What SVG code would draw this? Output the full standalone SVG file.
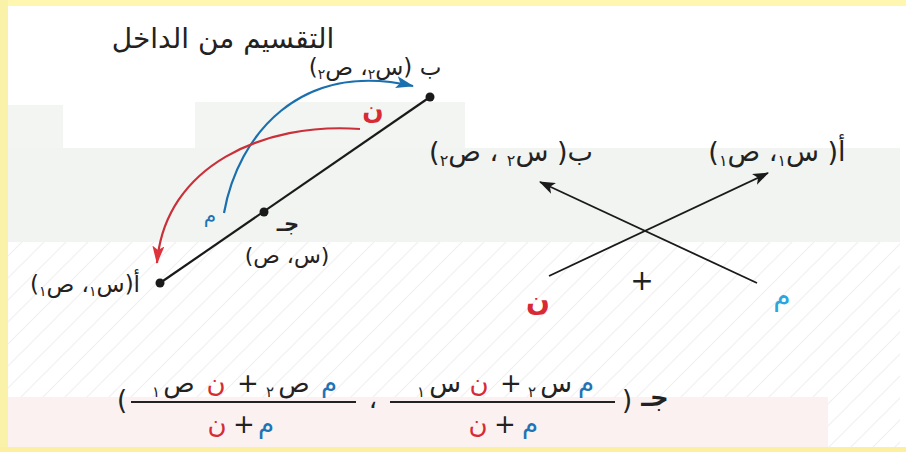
<svg xmlns="http://www.w3.org/2000/svg" width="906" height="452" viewBox="0 0 906 452">
<defs>
<style>
.ar{font-family:"DejaVu Sans",sans-serif;fill:#222}
.red{fill:#d72a35}
.blue{fill:#1f74b5}
.cyan{fill:#2aa6df}
.seg{stroke:#1a1a1a;stroke-width:2.2;fill:none}
.cross{stroke:#1a1a1a;stroke-width:1.8;fill:none}
.bar{stroke:#222;stroke-width:2}
</style>
<pattern id="hatch" patternUnits="userSpaceOnUse" width="22" height="22">
<path d="M-2,24 L24,-2 M-2,2 L2,-2 M20,24 L24,20" stroke="#f0f0f0" stroke-width="1.2"/>
</pattern>
<marker id="ahK" viewBox="0 0 16 12" refX="15" refY="6" markerWidth="16" markerHeight="12" markerUnits="userSpaceOnUse" orient="auto">
<path d="M0,0 L16,6 L0,12 L4,6 z" fill="#1a1a1a"/>
</marker>
<marker id="ahB" viewBox="0 0 18 12" refX="17" refY="6" markerWidth="18" markerHeight="12" markerUnits="userSpaceOnUse" orient="auto">
<path d="M0,0 L18,6 L0,12 L4,6 z" fill="#1a6fae"/>
</marker>
<marker id="ahR" viewBox="0 0 18 12" refX="17" refY="6" markerWidth="18" markerHeight="12" markerUnits="userSpaceOnUse" orient="auto">
<path d="M0,0 L18,6 L0,12 L4,6 z" fill="#e0323c"/>
</marker>
</defs>

<!-- background -->
<rect x="0" y="0" width="906" height="452" fill="#ffffff"/>
<g id="background">
<rect x="8" y="105" width="55" height="45" fill="#f2f5f2"/>
<rect x="195" y="102" width="270" height="48" fill="#f2f5f2"/>
<rect x="8" y="148" width="892" height="94" fill="#f1f4f1"/>
<rect x="8" y="242" width="892" height="205" fill="url(#hatch)"/>
<rect x="8" y="397" width="820" height="50" fill="#fcf1f1"/>
<rect x="0" y="0" width="906" height="6" fill="#fff7b0"/>
<rect x="0" y="0" width="8" height="452" fill="#fbf2aa"/>
<rect x="0" y="447" width="906" height="5" fill="#fcefa2"/>
</g>

<!-- title -->
<text class="ar" x="223" y="48" font-size="28" text-anchor="middle" direction="rtl">التقسيم من الداخل</text>

<!-- connectors -->
<g id="connectors">
<line class="seg" x1="160" y1="283" x2="430" y2="97"/>
<path d="M224,213 C238,135 300,60 413,86" fill="none" stroke="#1a6fae" stroke-width="2.2" marker-end="url(#ahB)"/>
<path d="M360,129 C265,122 165,165 157,263" fill="none" stroke="#c9303a" stroke-width="2.2" marker-end="url(#ahR)"/>
<line class="cross" x1="549" y1="276" x2="768" y2="173" marker-end="url(#ahK)"/>
<line class="cross" x1="757" y1="283" x2="540" y2="182" marker-end="url(#ahK)"/>
</g>

<!-- points -->
<g id="pointA">
<circle cx="160" cy="283" r="4.5" fill="#1a1a1a"/>
<text class="ar" x="85" y="292" font-size="23" text-anchor="middle" direction="rtl">أ(س<tspan font-size="14" baseline-shift="-4">١</tspan>، ص<tspan font-size="14" baseline-shift="-4">١</tspan>)</text>
</g>
<g id="pointB">
<circle cx="430" cy="97" r="4.5" fill="#1a1a1a"/>
<text class="ar" x="375" y="75" font-size="23" text-anchor="middle" direction="rtl">ب (س<tspan font-size="14" baseline-shift="-4">٢</tspan>، ص<tspan font-size="14" baseline-shift="-4">٢</tspan>)</text>
</g>
<g id="pointC">
<circle cx="264" cy="212" r="4.5" fill="#1a1a1a"/>
<text class="ar" x="288" y="231" font-size="21" font-weight="bold" text-anchor="middle">جـ</text>
<text class="ar" x="287" y="263" font-size="22" text-anchor="middle" direction="rtl">(س، ص)</text>
</g>
<g id="labelN1"><text class="ar red" x="373" y="119" font-size="25" font-weight="bold" text-anchor="middle">ن</text></g>
<g id="labelM1"><text class="ar blue" x="210" y="222" font-size="20" text-anchor="middle">م</text></g>

<!-- right figure -->
<g id="pointB2">
<text class="ar" x="511" y="161" font-size="27" text-anchor="middle" direction="rtl">ب( س<tspan font-size="16" baseline-shift="-5">٢</tspan> ، ص<tspan font-size="16" baseline-shift="-5">٢</tspan>)</text>
</g>
<g id="pointA2">
<text class="ar" x="777" y="161" font-size="27" text-anchor="middle" direction="rtl">أ( س<tspan font-size="16" baseline-shift="-5">١</tspan>، ص<tspan font-size="16" baseline-shift="-5">١</tspan>)</text>
</g>
<g id="labelN2"><text class="ar red" x="538" y="310" font-size="28" font-weight="bold" text-anchor="middle">ن</text></g>
<g id="labelM2"><text class="ar cyan" x="782" y="305" font-size="28" text-anchor="middle">م</text></g>
<g id="plus"><text class="ar" x="642" y="290" font-size="28" text-anchor="middle">+</text></g>

<!-- formula -->
<g id="formula" font-size="26">
<text class="ar" x="122" y="409" text-anchor="middle">(</text>
<line class="bar" x1="131" y1="402" x2="356" y2="402"/>
<text class="ar" x="179" y="392" text-anchor="middle">ص</text>
<text class="ar" x="156" y="397" font-size="15" text-anchor="middle">١</text>
<text class="ar red" x="216" y="392" text-anchor="middle">ن</text>
<text class="ar" x="248" y="392" text-anchor="middle">+</text>
<text class="ar" x="294" y="392" text-anchor="middle">ص</text>
<text class="ar" x="270" y="397" font-size="15" text-anchor="middle">٢</text>
<text class="ar blue" x="329" y="392" text-anchor="middle">م</text>
<text class="ar red" x="217" y="433" text-anchor="middle">ن</text>
<text class="ar" x="244" y="433" text-anchor="middle">+</text>
<text class="ar blue" x="266" y="433" text-anchor="middle">م</text>
<text class="ar" x="373" y="408" text-anchor="middle">،</text>
<line class="bar" x1="390" y1="402" x2="615" y2="402"/>
<text class="ar" x="445" y="392" text-anchor="middle">س</text>
<text class="ar" x="421" y="397" font-size="15" text-anchor="middle">١</text>
<text class="ar red" x="479" y="392" text-anchor="middle">ن</text>
<text class="ar" x="511" y="392" text-anchor="middle">+</text>
<text class="ar" x="556" y="392" text-anchor="middle">س</text>
<text class="ar" x="532" y="397" font-size="15" text-anchor="middle">٢</text>
<text class="ar blue" x="586" y="392" text-anchor="middle">م</text>
<text class="ar red" x="478" y="433" text-anchor="middle">ن</text>
<text class="ar" x="505" y="433" text-anchor="middle">+</text>
<text class="ar blue" x="530" y="433" text-anchor="middle">م</text>
<text class="ar" x="627" y="409" text-anchor="middle">)</text>
<text class="ar" x="655" y="406" font-weight="bold" text-anchor="middle">جـ</text>
</g>
</svg>
